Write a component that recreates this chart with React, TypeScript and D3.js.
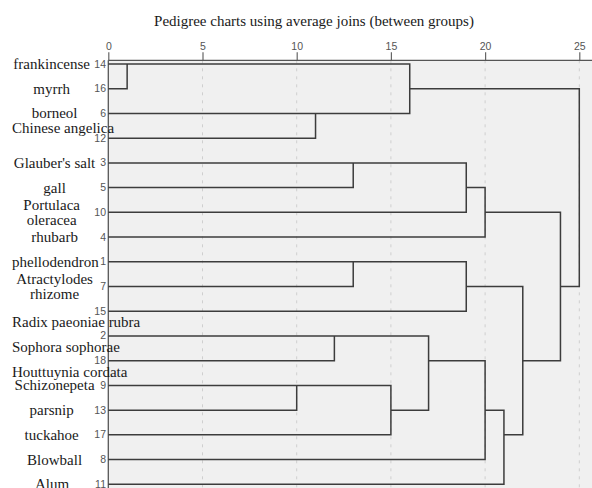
import React, { useEffect, useRef } from 'react';
import * as d3 from 'd3';

// Chart title
const title = 'Pedigree charts using average joins (between groups)';

// Case labels, indexed by case number (1-based); "\n" marks a wrapped line
const caseLabels = [
  'phellodendron',
  'Sophora sophorae',
  "Glauber's salt",
  'rhubarb',
  'gall',
  'borneol',
  'Atractylodes\nrhizome',
  'Blowball',
  'Schizonepeta',
  'Portulaca\noleracea',
  'Alum',
  'Chinese angelica',
  'parsnip',
  'frankincense',
  'Radix paeoniae rubra',
  'myrrh',
  'tuckahoe',
  'Houttuynia cordata',
];

// Leaf order from top to bottom (case numbers)
const leafOrder = [14, 16, 6, 12, 3, 5, 10, 4, 1, 7, 15, 2, 18, 9, 13, 17, 8, 11];

// Agglomeration schedule: clusters containing these cases are joined at the rescaled distance
const mergeLeft = [14, 9, 6, 2, 3, 1, 9, 14, 2, 3, 1, 3, 2, 2, 1, 3, 14];
const mergeRight = [16, 13, 12, 18, 5, 7, 17, 6, 9, 10, 15, 4, 8, 11, 2, 1, 3];
const mergeHeight = [1, 10, 11, 12, 13, 13, 15, 16, 17, 19, 19, 20, 20, 21, 22, 24, 25];

// Rescaled distance axis ticks
const tickValues = [0, 5, 10, 15, 20, 25];

const W = 592;
const H = 488;
const SERIF = '"Liberation Serif", "Times New Roman", serif';
const SANS = '"Liberation Sans", Arial, sans-serif';

export default function App() {
  const ref = useRef<SVGSVGElement>(null);

  useEffect(() => {
    const svg = d3.select(ref.current);
    svg.selectAll('*').remove();

    const plotLeft = 108.3;
    const plotTop = 60.3;
    const x = d3.scaleLinear().domain([0, 25]).range([plotLeft, 579.3]);
    const y = d3
      .scalePoint<number>()
      .domain(d3.range(leafOrder.length))
      .range([64, 484.3]);
    const rowStep = y.step();

    // plot background
    svg
      .append('rect')
      .attr('x', plotLeft)
      .attr('y', plotTop)
      .attr('width', W - plotLeft)
      .attr('height', H - plotTop)
      .attr('fill', '#f0f0f0');

    // dashed gridlines
    svg
      .append('g')
      .selectAll('line')
      .data(tickValues.filter((t) => t > 0))
      .join('line')
      .attr('x1', (d) => x(d))
      .attr('x2', (d) => x(d))
      .attr('y1', plotTop)
      .attr('y2', H)
      .attr('stroke', '#cfcfcf')
      .attr('stroke-width', 1)
      .attr('stroke-dasharray', '3,5');

    // top axis
    const axis = d3.axisTop(x).tickValues(tickValues).tickSize(8).tickSizeOuter(0);
    const ag = svg.append('g').attr('transform', `translate(0,${plotTop})`).call(axis);
    ag.select('.domain').remove();
    ag.selectAll('.tick line').attr('stroke', '#666').attr('stroke-width', 1.2);
    ag.selectAll('.tick text')
      .attr('font-family', SANS)
      .attr('font-size', 10.5)
      .attr('fill', '#555')
      .attr('dy', '0.1em');

    svg
      .append('line')
      .attr('x1', plotLeft)
      .attr('x2', W)
      .attr('y1', plotTop)
      .attr('y2', plotTop)
      .attr('stroke', '#555')
      .attr('stroke-width', 1.3);
    svg
      .append('line')
      .attr('x1', plotLeft)
      .attr('x2', plotLeft)
      .attr('y1', plotTop)
      .attr('y2', H)
      .attr('stroke', '#555')
      .attr('stroke-width', 1.3);

    // dendrogram links
    type Node = { row: number; h: number; members: number[] };
    const owner = new Map<number, Node>();
    leafOrder.forEach((c, i) => owner.set(c, { row: i, h: 0, members: [c] }));
    const p = d3.path();
    mergeHeight.forEach((h, i) => {
      const A = owner.get(mergeLeft[i])!;
      const B = owner.get(mergeRight[i])!;
      const [top, bot] = A.row <= B.row ? [A, B] : [B, A];
      p.moveTo(x(top.h), y(top.row)!);
      p.lineTo(x(h), y(top.row)!);
      p.lineTo(x(h), y(bot.row)!);
      p.lineTo(x(bot.h), y(bot.row)!);
      const node: Node = {
        row: Math.floor((top.row + bot.row) / 2),
        h,
        members: [...A.members, ...B.members],
      };
      node.members.forEach((m) => owner.set(m, node));
    });
    svg
      .append('path')
      .attr('d', p.toString())
      .attr('fill', 'none')
      .attr('stroke', '#3c3c3c')
      .attr('stroke-width', 1.5);

    // case numbers, right-aligned against the axis
    const numWidth = new Map<number, number>();
    svg
      .append('g')
      .selectAll('text')
      .data(leafOrder)
      .join('text')
      .attr('x', 106)
      .attr('y', (_, i) => y(i)! - 0.5)
      .attr('text-anchor', 'end')
      .attr('dominant-baseline', 'central')
      .attr('font-family', SANS)
      .attr('font-size', 10.5)
      .attr('fill', '#555')
      .text((d) => d)
      .each(function (d) {
        numWidth.set(d, (this as SVGTextElement).getComputedTextLength());
      });

    // case labels: centred in the space left of the case number,
    // overflowing ones start at the column's left edge
    const colLeft = 12;
    const raised = new Set([12]);
    const lowered = new Set([15, 2, 18]);
    const lineGap = 14.4;
    const lg = svg.append('g');
    leafOrder.forEach((c, i) => {
      const lines = caseLabels[c - 1].split('\n');
      const colRight = 106 - (numWidth.get(c) ?? 6) - 3;
      const colCenter = (colLeft + colRight) / 2;
      let cy = y(i)!;
      if (raised.has(c)) cy -= rowStep * 0.43;
      if (lowered.has(c)) cy += rowStep * 0.44;
      lines.forEach((line, k) => {
        const t = lg
          .append('text')
          .attr('y', cy + (k - (lines.length - 1) / 2) * lineGap)
          .attr('dominant-baseline', 'central')
          .attr('font-family', SERIF)
          .attr('font-size', 15)
          .attr('fill', '#1a1a1a')
          .text(line);
        const w = (t.node() as SVGTextElement).getComputedTextLength();
        if (colCenter - w / 2 < colLeft) {
          t.attr('x', colLeft).attr('text-anchor', 'start');
        } else {
          t.attr('x', colCenter).attr('text-anchor', 'middle');
        }
      });
    });

    // title
    svg
      .append('text')
      .attr('x', 314)
      .attr('y', 26)
      .attr('text-anchor', 'middle')
      .attr('font-family', SERIF)
      .attr('font-size', 15)
      .attr('fill', '#1a1a1a')
      .text(title);
  }, []);

  return (
    <svg
      ref={ref}
      width={W}
      height={H}
      style={{ position: 'absolute', left: 0, top: 0, background: '#fff' }}
    />
  );
}
